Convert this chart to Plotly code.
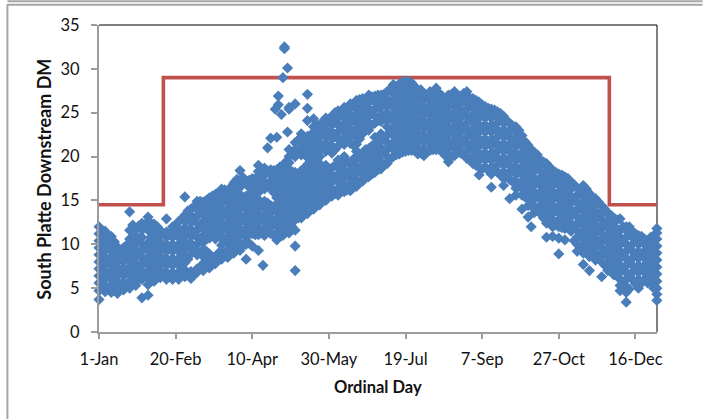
import plotly.graph_objects as go

# Ordinal day -> values, one small table per stretch of the year
winter = {
 1: [3.7,4.7,5.6,6.4,7.2,8,8.8,9.6,10.4,11.2,12],
 5: [4.6,5.2,6,6.8,7.6,8.4,9.2,10,10.8,11.5],
 9: [4.5,5.4,6.2,7,7.8,8.6,9.4,10.2,10.9],
 13: [4.4,5,5.8,6.6,7.4,8.2,9,9.7],
 17: [4.8,5.6,6.4,7.2,8,8.8,9.6],
 21: [5,5.8,6.6,7.4,8.2,9,9.8,10.6,11.6,13.7],
 25: [5.3,6.2,7,7.8,8.6,9.4,10.2,11,11.8],
 29: [3.9,6,6.8,7.6,8.4,9.2,10,10.8,11.6,12.4],
 33: [4.2,5.4,6.2,7,7.8,8.6,9.4,10.2,11.6,12.6,13.1],
 37: [5.8,6.6,7.4,8.2,9,9.8,10.6,11.4,12.3],
 41: [6.2,7,7.8,8.6,9.4,10.2,11,11.6],
 45: [6,6.8,7.6,8.4,9.2,10,10.8,11.4,12.9],
 49: [6,6.8,7.6,8.4,9.2,10,10.8,11.6,12],
 53: [6,6.8,7.6,8.4,9.2,10,10.8,11.6,12.6],
 57: [6.3,7.1,7.9,8.7,9.5,10.3,11.1,11.9,12.7,13.3,15.4],
 61: [6.1,6.9,8.9,9.5,10.1,10.9,11.7,12.5,13.3,14],
 65: [6.8,7.2,8.8,9.2,10,10.8,11.6,12.4,13.2,14,14.9],
 69: [7,7.8,8.6,9.4,10.2,11,11.8,12.6,13.4,14.2,14.8],
 73: [7.3,8.1,8.9,10.7,11.3,12.1,12.9,13.7,14.5,15.3],
 77: [7.8,8.6,10.6,11,11.8,12.6,13.4,14.2,15,15.7],
 81: [8.3,9.1,9.9,10.7,11.5,12.3,13.1,13.9,14.7,15.5,16.3],
 85: [8.5,9.3,10.1,10.9,11.7,12.5,13.3,14.1,14.9,15.7,16.1],
 89: [9,9.8,10.6,11.4,12.2,13,13.8,14.6,15.4,16.2,17],
}
spring = {
 93: [9.3,10.1,10.9,11.7,12.5,13.3,14.1,14.9,15.7,16.5,17.3,18.4],
 97: [8.3,10,10.8,11.6,12.4,13.2,14,14.8,15.5,16.9,17.2],
 101: [9.8,11.2,12,12.8,13.6,14.4,15.2,16,16.8,17.5],
 105: [9.3,11.1,11.9,12.7,13.5,14.3,15.1,15.9,16.7,17.5,18.3,19],
 108: [7.6],
 109: [11,11.7,12.5,13.3,14.1,14.9,16.3,17.1,17.9,18.7],
 111: [21],
 113: [11.2,12,12.8,13.6,14.4,16.4,17.2,18,18.5,22.1],
 116: [25.4],
 117: [10.5,11.3,12.1,12.9,13.7,14.5,15.3,16.1,16.9,17.7,18.5,22.2],
 118: [25.9,26.9],
 120: [24.8],
 121: [11,11.8,12.6,13.4,14.2,15,15.8,16.6,17.4,18.2,19,29],
 122: [32.3,32.5],
 124: [22.8,30.1],
 125: [11.3,12.1,12.9,13.7,14.5,15.3,16.1,16.9,17.7,18.5,19.3,20,20.8,25.4,25.6],
 129: [7,9.8,11.6,12.8,13.6,14.4,15.2,16,16.8,17.6,18.2,20,20.8,21.6,26],
 133: [13,13.8,14.6,15.4,16.2,17,17.8,18.4,20.2,21,21.8,22.6],
 137: [13.5,14.3,15.1,15.9,16.7,17.5,18.3,19.1,19.9,20.7,21.5,22.3,24.1,25.5,27.1],
 141: [14,14.8,15.6,16.4,17.2,18,18.8,19.6,20.4,21.2,22,22.8,23.4,24.3],
 145: [14.5,15.2,16,16.8,17.6,18.4,19.2,20,20.8,21.6,22.4,23.4],
 149: [15,15.8,16.6,17.4,18.2,19,20.6,21.4,22.2,23,23.8,24.4],
 153: [15.5,16.3,17.1,17.9,18.7,20.4,21.2,22,22.8,23.6,24.6],
 157: [15.6,16.4,17.2,18,18.8,19.6,21.2,22,22.8,23.6,24.4,25.2],
 161: [16,16.8,17.6,18.4,19.2,20,21.4,22.2,23,23.8,24.6,25.6],
 165: [16.1,16.9,17.7,18.5,19.3,21.5,22.3,23.1,23.9,24.7,25.5,26],
 169: [16.6,17.4,18.2,19,19.8,20.6,21.4,22.2,23,23.8,24.6,25.4,26.4],
 173: [17.2,18,18.8,19.6,20.4,22.6,23.4,24.2,25,25.8,26.6],
 177: [17.7,18.5,19.3,20.1,20.9,23,23.8,24.6,25.4,26.2,27],
}
summer = {
 181: [18.2,19,19.8,20.6,21.4,22.2,23.8,24.6,25.4,26.2,26.9],
 185: [18.6,19.4,20.2,21,21.8,22.6,24,24.8,25.6,26.4,27],
 189: [19.2,20,20.8,21.6,22.4,23.4,24.2,25,25.8,26.6,27.4],
 193: [20,20.8,21.6,22.4,23.2,24,24.8,25.6,26.4,27.2,28.2],
 197: [20.3,21.1,21.9,22.7,23.5,24.3,25.1,25.9,26.7,27.5,28.3],
 201: [20.6,21.4,22.2,23,23.8,24.6,25.4,26.2,27,27.8,28.6],
 205: [20.7,21.5,22.3,23.1,23.9,24.7,25.5,26.3,27.1,27.9,28.4],
 209: [20.3,21.1,21.9,22.7,23.5,24.3,25.1,25.9,26.7,27.5],
 213: [20.1,20.9,21.7,22.5,23.3,24.1,24.9,25.7,26.5,27.2],
 217: [20.7,21.5,22.3,23.1,23.9,24.7,25.5,26.3,27.1,27.4],
 221: [20.8,21.6,22.4,23.2,24,24.8,25.6,26.4,27.2,27.8],
 225: [20.5,21.3,22.1,22.9,23.7,24.5,25.3,26.1,26.9],
 229: [19.4,20.2,21,21.8,22.6,23.4,24.2,25,25.8,26.6,27],
 233: [20.1,20.9,21.7,22.5,23.3,24.1,24.9,25.7,26.5,27.4],
 237: [20.4,21.2,22,22.8,23.6,24.4,25.2,26,26.9],
 241: [19.8,20.6,21.4,22.2,23,23.8,24.6,25.4,26.2,27.4],
 245: [19.2,20,20.8,21.6,22.4,23.2,24,24.8,25.6,26.6],
 249: [17.9,18.8,19.6,20.4,21.2,22,22.8,23.6,24.4,25.2,26.2],
 253: [18.8,19.6,20.4,21.2,22,22.8,23.6,24.4,25.2,25.7],
 257: [16.5,18,18.8,19.6,20.4,21.2,22,22.8,23.6,24.4,25.4],
 261: [18.2,19,19.8,20.6,21.4,22.2,23,23.8,24.6,25.1],
 265: [16.7,17.5,18.3,19.1,19.9,20.7,21.5,22.3,23.1,23.9,24.6],
 269: [15.2,17.4,18.2,19,19.8,20.6,21.4,22.2,23,23.8],
}
autumn = {
 273: [15.6,16.4,17.2,18,18.8,19.6,20.4,21.2,22,22.8,23.4],
 277: [14,15.6,16.4,17.2,18,18.8,19.6,20.4,21.2,22,22.4],
 281: [13.1,14.4,15.2,16,16.8,17.6,18.4,19.2,20,20.8,21.3],
 283: [12],
 285: [13.6,14.4,15.2,16,16.8,17.6,18.4,19.2,20,20.5],
 289: [13.5,14.3,15.1,15.9,16.7,17.5,18.3,19.1,19.6],
 293: [10.8,12.4,13.2,14,14.8,15.6,16.4,17.2,18,18.8,19.2],
 297: [10.9,12,12.8,13.6,14.4,15.2,16,16.8,17.6,18.4],
 301: [8.9,10.7,12,12.8,13.6,14.4,15.2,16,16.8,17.6,18],
 305: [10.5,11.8,12.6,13.4,14.2,15,15.8,16.6,17.4,17.7],
 309: [11.5,12.3,13.1,13.9,14.7,15.5,16.3,17.1],
 313: [9.2,10,10.8,11.6,12.4,13.2,14,14.8,15.6,16.4],
 317: [7.7,9,9.8,10.6,11.4,12.2,13,13.8,14.6,15.4,16.7],
 321: [7,8.6,9.4,10.2,11,11.8,12.6,13.4,14.2,15,15.8],
 325: [8.2,9,9.8,10.6,11.4,12.2,13,13.8,14.6,15.2],
 329: [6.3,8,8.8,9.6,10.4,11.2,12,12.8,13.6,14.4],
 333: [7,7.8,8.6,9.4,10.2,11,11.8,12.6,13.4,13.6],
 337: [6.5,7.3,8.1,8.9,9.7,10.5,11.3,12.1,12.9,13],
 341: [4.7,5.3,6,6.8,7.6,8.4,9.2,10,10.8,11.6,12.9],
 345: [3.4,4.5,5.2,6,6.8,7.6,8.4,9.2,10,10.8,11.6,12],
 349: [6,6.8,7.6,8.4,9.2,10,10.8,11.5],
 353: [5,6,6.8,7.6,8.4,9.2,10,10.8,11],
 357: [6,6.8,7.6,8.4,9.2,10,10.6],
 361: [5.5,6.3,7.1,7.9,8.7,9.5,10.3,10.8],
 365: [3.6,4.3,5,5.8,6.6,7.4,8.2,9,9.8,10.6,11.3,11.8],
}
between_early = {
 3: [5.1,6.3,7.7,9.1,10.5,11.6], 7: [5,6.6,8.2,9.7,10.9], 11: [4.8,6.4,8,9.5,10.3],
 15: [5.2,6.8,8.4,9.3], 19: [5.3,7,8.6,9.9], 23: [5.6,7.2,9.2,10.8,12.2],
 27: [6,7.4,9,10.6,12.1], 31: [6.4,8,9.6,12], 35: [6,7.6,9.2,10.8,12.4],
 39: [6.5,8,9.6,11.3,12], 43: [6.6,8.2,9.8,11.2], 47: [6.4,8,9.6,11.1],
 51: [6.4,8,9.6,11.2,12.2], 55: [6.7,8.3,9.9,11.5,12.9], 59: [6.7,8.3,9.9,11.5,13.1,13.8],
 63: [6.5,9.7,11.3,12.9,14.3], 67: [7.4,9,10.6,12.2,13.8,14.9], 71: [7.6,9.2,10.8,12.4,14,15],
 75: [7.7,8.5,11.1,12.7,14.3,15.5], 79: [8.2,9,11.4,13,14.6,15.9], 83: [8.7,10.3,11.9,13.5,15.1,16.2],
 87: [8.9,10.5,12.1,13.7,15.3,16.5], 91: [9.4,11,12.6,14.2,15.8,17.4], 95: [9.9,11.5,13.1,14.7,16.9,17.6],
 99: [10.1,11.7,13.3,14.9,16.5,17.3], 103: [11.1,12.7,14.3,15.9,17.5], 107: [11.3,12.9,14.5,16.9,18.5],
 111: [11.5,13.1,14.7,16.6,18.2], 115: [11.1,12.7,14.3,15.9,17.5,18.4], 119: [11.2,12.8,14.4,16,17.6,18.8],
 123: [11.4,13,14.6,16.2,17.8,19.4], 127: [12,13.6,15.2,16.8,18.3,20.3], 131: [13,14.6,16.2,17.8,20.4,21.9],
 135: [13.8,15.4,17,18.6,20.5,22.2], 139: [14.2,15.8,17.4,19,20.6,22.4], 143: [14.5,16.1,17.7,19.3,20.9,22.5,23.6],
 147: [15,16.6,18.2,21,22.6,24], 151: [15.4,17,18.6,21.1,22.7,24.3], 155: [15.8,17.4,19,20.8,22.4,24,25],
 159: [16.1,17.7,19.3,21.8,23.4,25], 163: [16.2,17.8,19.4,22.3,23.9,25.5], 167: [16.5,18.1,19.7,21.3,22.9,24.5,26],
 171: [17.1,18.7,20.3,22,23.6,25.2,26.5], 175: [17.6,19.2,20.8,23.2,24.8,26.4], 179: [18,19.6,21.2,23.6,25.2,26.8],
}
between_late = {
 183: [18.5,20.1,21.7,24.1,25.7,27], 187: [19,20.6,22.2,24.6,26.2,27.1], 191: [19.7,21.3,22.9,24.5,26.1,27.7],
 195: [20.2,21.8,23.4,25,26.6,28], 199: [20.5,22.1,23.7,25.3,26.9,28.5], 203: [20.7,22.3,23.9,25.5,27.1,28.5],
 207: [20.7,22.3,23.9,25.5,27.1,28], 211: [20.4,22,23.6,25.2,26.8,27.6], 215: [20.6,22.2,23.8,25.4,27],
 219: [20.8,22.4,24,25.6,27.2], 223: [20.8,22.4,24,25.6,27.2], 227: [20.1,21.7,23.3,24.9,26.5],
 231: [20,21.6,23.2,24.8,26.4,27.1], 235: [20.5,22.1,23.7,25.3,26.9], 239: [20.2,21.8,23.4,25,26.6,27.2],
 243: [19.6,21.2,22.8,24.4,26,26.7], 247: [19,20.6,22.2,23.8,25.4,26.4], 251: [18.6,20.2,21.8,23.4,25,25.9],
 255: [18.4,20,21.6,23.2,24.8,25.5], 259: [18.4,20,21.6,23.2,24.8,25.3], 263: [17.9,19.5,21.1,22.7,24.3,24.9],
 267: [17.7,19.3,20.9,22.5,24.1], 271: [17.1,18.7,20.3,21.9,23.5], 275: [16.6,18.2,19.8,21.4,23],
 279: [15.4,17,18.6,20.2,21.7], 283: [14.4,16,17.6,19.2,20.8], 287: [14,15.6,17.2,18.8,20.2],
 291: [13,14.6,16.2,17.8,19.4], 295: [12.4,14,15.6,17.2,18.8], 299: [12.2,13.8,15.4,17,18.2],
 303: [11.9,13.5,15.1,16.7,17.9], 307: [11.9,13.5,15.1,16.7,17.5], 311: [10.4,12,13.6,15.2,16.8],
 315: [9.6,11.2,12.8,14.4,16], 319: [9.1,10.7,12.3,13.9,15.5,16.3], 323: [8.8,10.4,12,13.6,15.2],
 327: [8.4,10,11.6,13.2,14.8], 331: [7.6,9.2,10.8,12.4,14], 335: [7,8.6,10.2,11.8,13.3],
 339: [6.4,8,9.6,11.2,12.8], 343: [5.6,7.2,8.8,10.4,12], 347: [4.9,6.4,8,9.6,11.2,12],
 351: [5.5,7.2,8.8,10.4,11.2], 355: [5.6,7.2,8.8,10.4,10.9], 359: [5.6,7.2,8.8,10.4],
 363: [5,6.6,8.2,9.8,11],
}

limit_days = [1, 43, 43, 334, 334, 365]
limit_vals = [14.5, 14.5, 29, 29, 14.5, 14.5]

x_ticks = [1, 51, 101, 151, 201, 251, 301, 351]
x_labels = ["1-Jan", "20-Feb", "10-Apr", "30-May", "19-Jul", "7-Sep", "27-Oct", "16-Dec"]
y_ticks = [0, 5, 10, 15, 20, 25, 30, 35]
x_title = "Ordinal Day"
y_title = "South Platte Downstream DM"

days, vals = [], []
for table in (winter, spring, summer, autumn, between_early, between_late):
    for d, ys in table.items():
        days += [d] * len(ys)
        vals += ys

W, H = 703, 419
L, R, T, B = 98.7, 657.3, 24.7, 331.7
FONT = "Lato, Carlito, Calibri, sans-serif"
GREY = "#9C9C9C"

fig = go.Figure()
fig.add_trace(go.Scatter(x=limit_days, y=limit_vals, mode="lines", cliponaxis=False,
                         line=dict(color="#C0504D", width=3.6), showlegend=False))
fig.add_trace(go.Scatter(x=days, y=vals, mode="markers", cliponaxis=False,
                         marker=dict(symbol="diamond", size=8.6, color="#4A7EBB", line=dict(width=0)),
                         showlegend=False))

def px(x): return (x - L) / (R - L)
def py(y): return (B - y) / (B - T)
def seg(x0, y0, x1, y1, color, w):
    return dict(type="line", xref="paper", yref="paper", x0=px(x0), y0=py(y0), x1=px(x1), y1=py(y1),
                line=dict(color=color, width=w), layer="below")

shapes = [
    seg(7, 1, W, 1, "#A6A6A6", 2),
    seg(7, 4.5, W, 4.5, "#A6A6A6", 2),
    seg(7, 4, 7, H, "#A6A6A6", 2),
    seg(L, T, R, T, "#000000", 1),
    seg(R, T, R, B, "#000000", 1),
]

annotations = [
    dict(text="<b>%s</b>" % x_title, xref="paper", yref="paper", x=px(378), y=py(387),
         xanchor="center", yanchor="middle", showarrow=False, font=dict(size=16.5, family=FONT)),
    dict(text="<b>%s</b>" % y_title, xref="paper", yref="paper", x=px(44), y=py(179),
         xanchor="center", yanchor="middle", textangle=-90, showarrow=False, font=dict(size=18, family=FONT)),
]

fig.update_layout(
    width=W, height=H, autosize=False,
    margin=dict(l=L, r=W - R, t=T, b=H - B, pad=0),
    paper_bgcolor="white", plot_bgcolor="white",
    font=dict(family=FONT, color="#111111", size=16.5),
    showlegend=False, shapes=shapes, annotations=annotations,
    xaxis=dict(range=[1, 365.1], tickvals=x_ticks, ticktext=x_labels, showgrid=False, zeroline=False,
               ticks="outside", ticklen=5, tickcolor=GREY, tickwidth=1.5, showline=True,
               linecolor=GREY, linewidth=2, tickfont=dict(size=16.5, family=FONT), ticklabelstandoff=6),
    yaxis=dict(range=[0, 35], tickvals=y_ticks, showgrid=False, zeroline=False,
               ticks="outside", ticklen=6, tickcolor=GREY, tickwidth=1.5, showline=True,
               linecolor=GREY, linewidth=2, tickfont=dict(size=16.5, family=FONT), ticklabelstandoff=8),
)
fig.write_html("out.html", config=dict(displayModeBar=False, responsive=False),
               post_script="document.body.style.margin='0';")
